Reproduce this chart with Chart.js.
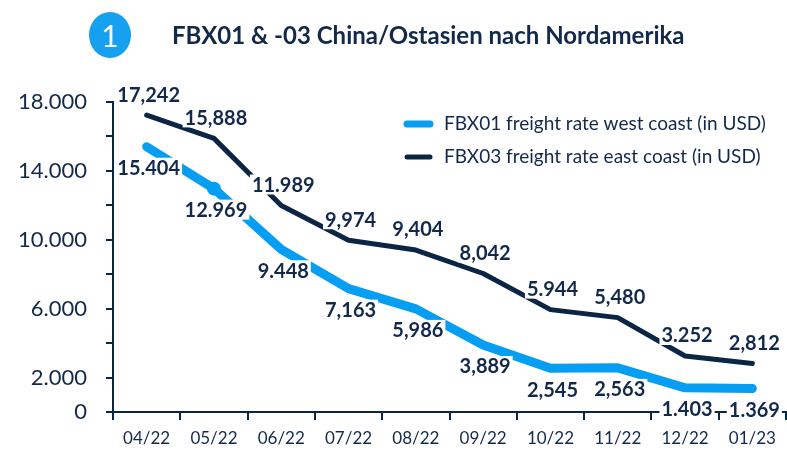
<!DOCTYPE html>
<html>
<head>
<meta charset="utf-8">
<script src="https://cdn.jsdelivr.net/npm/chart.js@4.4.1/dist/chart.umd.min.js"></script>
<style>
  html, body { margin: 0; padding: 0; background: #fff; }
  #wrap { width: 787px; height: 450px; }
</style>
</head>
<body>
<div id="wrap"><canvas id="freightChart" width="787" height="450"></canvas></div>
<script>
// chart data
const months = ['04/22', '05/22', '06/22', '07/22', '08/22', '09/22', '10/22', '11/22', '12/22', '01/23'];
const westCoast = [15404, 12969, 9448, 7163, 5986, 3889, 2545, 2563, 1403, 1369];
const eastCoast = [17242, 15888, 11989, 9974, 9404, 8042, 5944, 5480, 3252, 2812];
// labels exactly as printed in the source
const westLabels = ['15.404', '12.969', '9.448', '7,163', '5,986', '3,889', '2,545', '2,563', '1.403', '1.369'];
const eastLabels = ['17,242', '15,888', '11.989', '9,974', '9,404', '8,042', '5.944', '5,480', '3.252', '2,812'];
const seriesNames = ['FBX01 freight rate west coast (in USD)', 'FBX03 freight rate east coast (in USD)'];
const chartTitle = 'FBX01 & -03 China/Ostasien nach Nordamerika';

const NAVY = '#0b2545';
const BLUE = '#069ef2';
const TEXT = '#13294b';
const FONT = 'Lato, "Open Sans", sans-serif';

// header with round badge + title
const headerPlugin = {
    id: 'header',
    beforeDraw(chart) {
        const ctx = chart.ctx;
        ctx.save();
        ctx.fillStyle = '#fff';
        ctx.fillRect(0, 0, chart.width, chart.height);
        ctx.fillStyle = '#16a0f0';
        ctx.beginPath();
        ctx.ellipse(110, 35, 21, 23, 0, 0, Math.PI * 2);
        ctx.fill();
        ctx.fillStyle = '#fff';
        ctx.font = '30px ' + FONT;
        ctx.textAlign = 'center';
        ctx.textBaseline = 'middle';
        ctx.fillText('1', 110, 37);
        ctx.fillStyle = TEXT;
        ctx.font = 'bold 24px ' + FONT;
        ctx.textAlign = 'left';
        ctx.fillText(chartTitle, 172, 36);
        ctx.restore();
    }
};

// legend drawn inside plot area, right side
const legendPlugin = {
    id: 'innerLegend',
    afterDraw(chart) {
        const ctx = chart.ctx;
        const colors = [BLUE, NAVY];
        const widths = [7, 5];
        ctx.save();
        seriesNames.forEach((name, i) => {
            const y = 124 + i * 33;
            ctx.strokeStyle = colors[i];
            ctx.lineWidth = widths[i];
            ctx.lineCap = 'round';
            ctx.beginPath();
            ctx.moveTo(407, y);
            ctx.lineTo(430, y);
            ctx.stroke();
            ctx.fillStyle = TEXT;
            ctx.font = '19px ' + FONT;
            ctx.textAlign = 'left';
            ctx.textBaseline = 'middle';
            ctx.fillText(name, 444, y);
        });
        ctx.restore();
    }
};

// value labels with white boxes that cut the lines
const valueLabelPlugin = {
    id: 'valueLabels',
    afterDraw(chart) {
        const ctx = chart.ctx;
        const sets = [[0, westLabels, 21], [1, eastLabels, -21]];
        ctx.save();
        ctx.font = 'bold 20px ' + FONT;
        ctx.textAlign = 'center';
        ctx.textBaseline = 'middle';
        sets.forEach(([dsIndex, texts, dy]) => {
            const meta = chart.getDatasetMeta(dsIndex);
            meta.data.forEach((pt, i) => {
                const txt = texts[i];
                const w = ctx.measureText(txt).width + 4;
                const x = pt.x + 2;
                const y = pt.y + dy;
                ctx.fillStyle = '#fff';
                ctx.fillRect(x - w / 2, y - 10, w, 20);
                ctx.fillStyle = TEXT;
                ctx.fillText(txt, x, y + 1);
            });
        });
        ctx.restore();
    }
};

const ctx = document.getElementById('freightChart').getContext('2d');
const chart = new Chart(ctx, {
    type: 'line',
    data: {
        labels: months,
        datasets: [{
            label: seriesNames[0],
            data: westCoast,
            borderColor: BLUE,
            backgroundColor: BLUE,
            borderWidth: 9,
            borderCapStyle: 'round',
            borderJoinStyle: 'round',
            pointRadius: c => c.dataIndex === 1 ? 7 : 0,
            pointBorderWidth: 0,
            tension: 0
        }, {
            label: seriesNames[1],
            data: eastCoast,
            borderColor: NAVY,
            backgroundColor: NAVY,
            borderWidth: 5,
            borderCapStyle: 'round',
            borderJoinStyle: 'round',
            pointRadius: 0,
            tension: 0
        }]
    },
    options: {
        responsive: false,
        animation: false,
        layout: {
            padding: { top: 102, right: 1, left: 0, bottom: 0 }
        },
        plugins: {
            legend: { display: false },
            tooltip: { enabled: false },
            title: { display: false }
        },
        scales: {
            x: {
                offset: true,
                grid: {
                    offset: true,
                    drawOnChartArea: false,
                    drawTicks: true,
                    tickLength: 8,
                    color: NAVY,
                    lineWidth: 2
                },
                border: { color: NAVY, width: 2 },
                ticks: {
                    color: TEXT,
                    font: { family: FONT, size: 17 },
                    padding: 8,
                    maxRotation: 0
                },
                afterFit: scale => { scale.height = 38; }
            },
            y: {
                min: 0,
                max: 18000,
                grid: {
                    drawOnChartArea: false,
                    drawTicks: true,
                    tickLength: 7,
                    color: NAVY,
                    lineWidth: 2
                },
                border: { color: NAVY, width: 2 },
                ticks: {
                    stepSize: 2000,
                    color: TEXT,
                    font: { family: FONT, size: 22 },
                    padding: 19,
                    callback: v => (v === 0 || (v / 2000) % 2 === 1)
                        ? String(v).replace(/\B(?=(\d{3})+(?!\d))/g, '.')
                        : ''
                },
                afterFit: scale => { scale.width = 113; }
            }
        }
    },
    plugins: [headerPlugin, legendPlugin, valueLabelPlugin]
});
</script>
</body>
</html>
